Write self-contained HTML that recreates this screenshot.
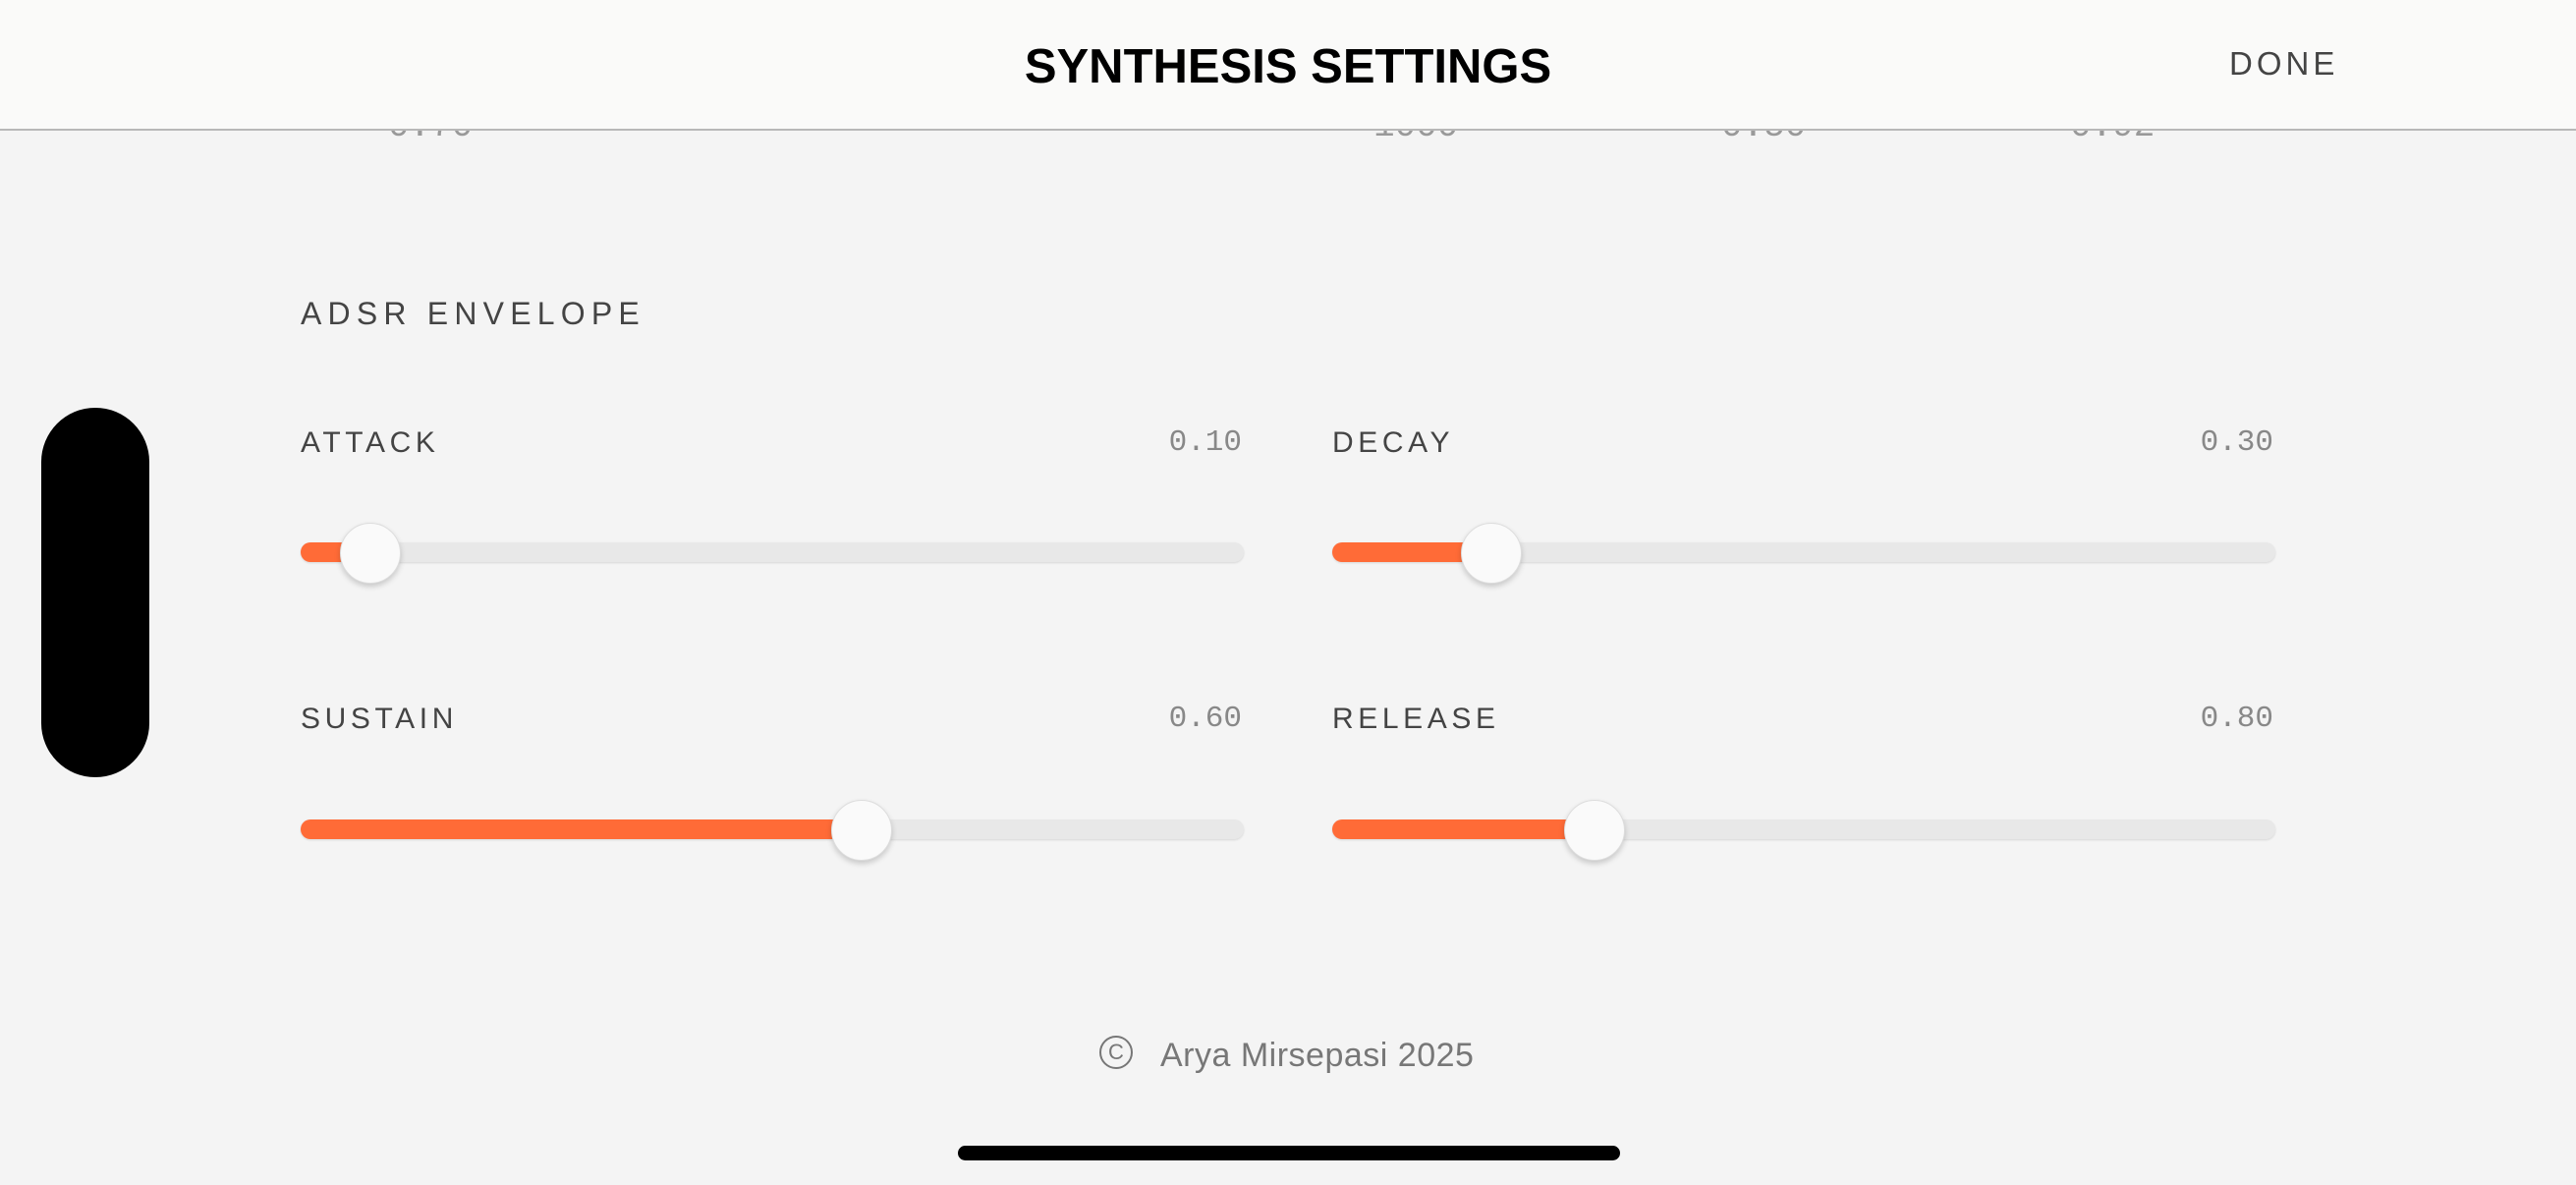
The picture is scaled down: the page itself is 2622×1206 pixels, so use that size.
<!DOCTYPE html>
<html><head><style>
body{margin:0;width:2622px;height:1206px;background:#f4f4f4;position:relative;overflow:hidden;font-family:"Liberation Sans",sans-serif}
.hdr{position:absolute;left:0;top:0;width:2622px;height:131px;background:#fafaf9;border-bottom:2px solid #b8b8b8;z-index:2}
.t{position:absolute;left:0;width:2622px;text-align:center;top:40px;font-size:49px;font-weight:bold;color:#000;letter-spacing:0}
.done{position:absolute;left:2269px;top:46px;font-size:33px;letter-spacing:4px;color:#444}
.pk{position:absolute;top:108px;font-family:"Liberation Mono",monospace;font-size:36px;color:#999;z-index:1}
.sec{position:absolute;left:306px;top:301px;font-size:32px;letter-spacing:6.2px;color:#444}
.lab{position:absolute;font-size:30px;letter-spacing:4.6px;color:#444}
.val{position:absolute;font-family:"Liberation Mono",monospace;font-size:31px;color:#888;text-align:right;width:200px}
.tr{position:absolute;height:20px;border-radius:10px;background:#e8e8e8;box-shadow:0 1px 2px rgba(0,0,0,.12)}
.fl{position:absolute;height:20px;border-radius:10px;background:#ff6b37}
.th{position:absolute;width:60px;height:60px;border-radius:50%;background:#fafafa;border:1px solid #ddd;box-shadow:0 3px 6px rgba(0,0,0,.18)}
</style></head><body>
<div class="hdr"><div class="t">SYNTHESIS SETTINGS</div><div class="done">DONE</div></div>
<div class="pk" style="left:395px">0.70</div>
<div class="pk" style="left:1398px">1000</div>
<div class="pk" style="left:1752px">0.50</div>
<div class="pk" style="left:2107px">0.92</div>
<div class="sec">ADSR ENVELOPE</div>
<div style="position:absolute;left:42px;top:415px;width:110px;height:376px;border-radius:55px;background:#000"></div>

<div class="lab" style="left:306px;top:434px">ATTACK</div>
<div class="val" style="left:1064px;top:433px">0.10</div>
<div class="tr" style="left:306px;top:552px;width:960px"></div>
<div class="fl" style="left:306px;top:552px;width:72px"></div>
<div class="th" style="left:346px;top:532px"></div>

<div class="lab" style="left:1356px;top:434px">DECAY</div>
<div class="val" style="left:2114px;top:433px">0.30</div>
<div class="tr" style="left:1356px;top:552px;width:960px"></div>
<div class="fl" style="left:1356px;top:552px;width:162px"></div>
<div class="th" style="left:1487px;top:532px"></div>

<div class="lab" style="left:306px;top:715px">SUSTAIN</div>
<div class="val" style="left:1064px;top:714px">0.60</div>
<div class="tr" style="left:306px;top:834px;width:960px"></div>
<div class="fl" style="left:306px;top:834px;width:572px"></div>
<div class="th" style="left:846px;top:814px"></div>

<div class="lab" style="left:1356px;top:715px">RELEASE</div>
<div class="val" style="left:2114px;top:714px">0.80</div>
<div class="tr" style="left:1356px;top:834px;width:960px"></div>
<div class="fl" style="left:1356px;top:834px;width:268px"></div>
<div class="th" style="left:1592px;top:814px"></div>

<div style="position:absolute;left:1119px;top:1054px;width:34px;height:34px;border:2px solid #777;border-radius:50%;box-sizing:border-box;text-align:center;font-size:22px;line-height:30px;color:#777">C</div>
<div style="position:absolute;left:1181px;top:1055px;font-size:34px;color:#777;letter-spacing:0.5px">Arya Mirsepasi 2025</div>
<div style="position:absolute;left:975px;top:1166px;width:674px;height:15px;border-radius:8px;background:#000"></div>
</body></html>
